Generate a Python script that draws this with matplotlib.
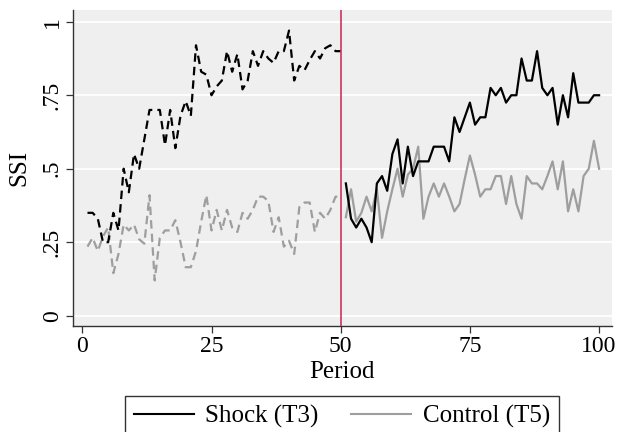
import matplotlib
matplotlib.use("Agg")
import matplotlib.pyplot as plt
import numpy as np
from matplotlib.lines import Line2D

# === data ===
periods = np.arange(1, 101)

shock = [
    .35, .35, .33, .25, .25, .35, .29, .50, .42, .55,
    .50, .60, .70, .70, .70, .58, .70, .57, .68, .73,
    .68, .92, .83, .82, .75, .78, .80, .90, .83, .89,
    .77, .80, .90, .85, .90, .875, .86, .90, .90, .97,
    .80, .85, .835, .87, .90, .875, .91, .92, .90, .90,
    .45, .33, .30, .33, .30, .25, .45, .475, .425, .55,
    .60, .45, .575, .475, .525, .525, .525, .575, .575, .575,
    .525, .675, .625, .675, .725, .65, .675, .675, .775, .75,
    .775, .725, .75, .75, .875, .80, .80, .90, .775, .75,
    .775, .65, .75, .675, .825, .725, .725, .725, .75, .75,
]

control = [
    .235, .265, .22, .27, .30, .145, .21, .31, .29, .31,
    .26, .245, .41, .12, .265, .29, .29, .325, .25, .165,
    .165, .22, .32, .41, .29, .36, .29, .36, .30, .285,
    .35, .33, .36, .405, .405, .39, .285, .335, .235, .255,
    .21, .37, .385, .385, .285, .35, .33, .36, .405, .405,
    .335, .43, .32, .35, .405, .355, .43, .265, .355, .43,
    .50, .405, .48, .50, .575, .33, .405, .45, .405, .45,
    .405, .355, .38, .465, .545, .48, .405, .43, .43, .475,
    .475, .38, .475, .38, .33, .475, .45, .45, .43, .475,
    .525, .43, .525, .355, .43, .355, .475, .50, .595, .50,
]

shock_label = "Shock (T3)"
control_label = "Control (T5)"
shock_time = 50
xticks = [0, 25, 50, 75, 100]
yticks = [0, .25, .5, .75, 1]
ytick_labels = ["0", ".25", ".5", ".75", "1"]

# === style ===
plt.rcParams['font.family'] = ['Liberation Serif', 'DejaVu Serif']
black = "black"
gray = "#9e9e9e"
dash = (0, (3.8, 2.3))

fig = plt.figure(figsize=(6.19, 4.32), dpi=100)
ax = fig.add_axes([72.5 / 619, 1 - 326 / 432, (612 - 72.5) / 619, (326 - 10) / 432])
ax.set_facecolor("#efefef")

ax.set_xlim(-1.9, 102.5)
ax.set_ylim(-0.035, 1.04)

for y in yticks:
    ax.axhline(y, color="white", lw=1.3, zorder=0)

pre = periods <= shock_time
post = periods > shock_time
s = np.array(shock)
c = np.array(control)

# before shock: dashed, after: solid
ax.plot(periods[pre], c[pre], color=gray, lw=1.6, linestyle=dash, zorder=2)
ax.plot(periods[pre], s[pre], color=black, lw=1.6, linestyle=dash, zorder=3)
ax.plot(periods[post], c[post], color=gray, lw=1.6, zorder=2)
ax.plot(periods[post], s[post], color=black, lw=1.6, zorder=3)

ax.axvline(shock_time, color="#c8264f", lw=1.1, zorder=4)

ax.set_xticks(xticks)
ax.set_yticks(yticks)
ax.set_yticklabels(ytick_labels, rotation=90, va="center")
ax.tick_params(axis="both", direction="out", length=5, width=0.9,
               color="#333333", labelsize=17, pad=2)

for side in ["top", "right"]:
    ax.spines[side].set_visible(False)
for side in ["left", "bottom"]:
    ax.spines[side].set_color("#333333")
    ax.spines[side].set_linewidth(1.0)

ax.set_xlabel("Period", fontsize=18, labelpad=3)
ax.set_ylabel("SSI", fontsize=18, labelpad=8)

handles = [Line2D([], [], color=black, lw=1.5), Line2D([], [], color=gray, lw=1.5)]
leg = fig.legend(handles, [shock_label, control_label], loc="upper center",
                 bbox_to_anchor=(342 / 619, 1 - 396 / 432), ncol=2, fontsize=18,
                 frameon=True, fancybox=False, edgecolor="black",
                 handlelength=2.4, handletextpad=0.45, columnspacing=1.3,
                 borderpad=0.35, borderaxespad=0)
leg.get_frame().set_linewidth(1.0)

fig.savefig("out.png", dpi=100)
